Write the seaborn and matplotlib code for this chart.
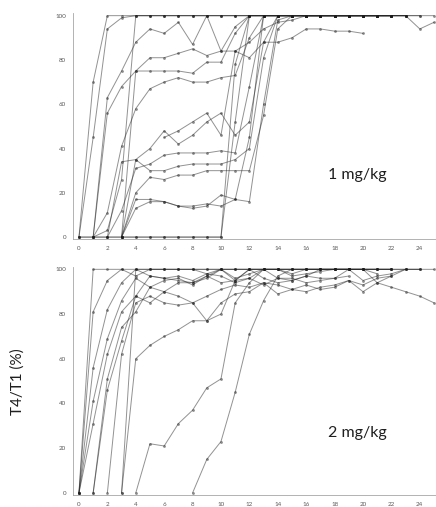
import numpy as np
import pandas as pd
import seaborn as sns
import matplotlib.pyplot as plt

# 1 mg/kg: T4/T1 (%) per subject, start minute + one value per minute
dose1_start = [0, 0, 1, 1, 1, 1, 3, 2, 2, 3, 3, 3, 3, 0, 0, 6]
dose1_vals = [
    [0, 70, 100, 100, 100, 100, 100, 100, 100, 100, 100, 100, 100, 100, 100, 100, 100, 100, 100, 100, 100, 100, 100, 100, 94, 97],
    [0, 45, 94, 99, 100, 100, 100, 100, 100, 100, 100, 100, 100, 100, 100, 100, 100, 100, 100, 100, 100, 100, 100, 100, 100],
    [0, 63, 75, 88, 94, 92, 97, 87, 100, 84, 95, 100, 100, 100, 100, 100, 100, 100, 100, 100, 100, 100, 100, 100, 100],
    [0, 56, 68, 75, 81, 81, 83, 85, 82, 84, 84, 88, 94, 97, 98, 100, 100, 100, 100, 100, 100, 100, 100],
    [0, 11, 41, 58, 67, 70, 72, 70, 70, 72, 73, 90, 100, 100, 100, 100, 100, 100, 100, 100, 100, 100, 100],
    [0, 3, 26, 100, 100, 100, 100, 100, 100, 100, 100, 100, 100, 100, 100, 100, 100, 100, 100, 100, 100, 100],
    [0, 75, 75, 75, 75, 74, 79, 79, 92, 100, 100, 100, 100, 100, 100, 100, 100, 100, 100, 100, 100],
    [0, 34, 35, 40, 48, 42, 46, 52, 56, 46, 52, 88, 100, 100, 100, 100, 100, 100, 100, 100, 100],
    [0, 12, 31, 33, 37, 38, 38, 38, 39, 38, 68, 100, 100, 100, 100, 100, 100, 100, 100, 100, 100],
    [0, 35, 30, 30, 32, 33, 33, 33, 35, 40, 81, 100, 100, 100, 100, 100, 100, 100, 100, 100],
    [0, 20, 27, 26, 28, 28, 30, 30, 30, 30, 55, 94, 100, 100, 100, 100, 100, 100, 100, 100],
    [0, 17, 17, 16, 14, 14, 15, 14, 17, 16, 60, 98, 100, 100, 100, 100, 100, 100, 100],
    [0, 13, 16, 16, 14, 13, 14, 19, 17, 45, 100, 100, 100, 100, 100, 100, 100, 100],
    [0, 0, 0, 0, 0, 0, 0, 0, 0, 0, 0, 52, 100, 100, 100, 100, 100, 100, 100, 100],
    [0, 0, 0, 0, 0, 0, 0, 0, 0, 0, 0, 78, 100, 100, 100, 100, 100, 100, 100, 100, 100, 100],
    [45, 48, 52, 56, 46, 84, 81, 88, 88, 90, 94, 94, 93, 93, 92],
]

# 2 mg/kg
dose2_start = [0, 0, 0, 0, 0, 1, 1, 3, 3, 4, 8, 2]
dose2_vals = [
    [0, 100, 100, 100, 100, 100, 100, 100, 100, 100, 100, 100, 100, 100, 100, 100, 100, 100, 100, 100, 100, 94, 92, 90, 88, 85],
    [0, 81, 95, 100, 97, 100, 100, 100, 100, 98, 100, 100, 100, 100, 100, 98, 100, 100, 100, 100, 100, 100, 100, 100],
    [0, 56, 82, 94, 100, 97, 96, 95, 94, 97, 100, 96, 98, 100, 96, 95, 97, 100, 100, 100, 100, 98],
    [0, 41, 69, 86, 96, 92, 90, 94, 94, 96, 100, 95, 96, 93, 96, 96, 94, 95, 96, 97],
    [0, 31, 62, 81, 88, 85, 90, 88, 85, 88, 91, 93, 92, 94, 89, 91, 93, 91, 92, 95, 93, 96, 97, 100, 100],
    [0, 51, 74, 81, 92, 95, 96, 93, 97, 94, 95, 100, 96, 94, 95, 97, 96, 96, 100, 95, 97, 98, 100, 100, 100],
    [0, 46, 68, 88, 97, 96, 97, 95, 98, 97, 94, 96, 100, 100, 97, 98, 99, 100, 100],
    [0, 100, 100, 100, 100, 100, 100, 100, 100, 100, 100, 100, 100, 100, 100, 100, 100, 100, 100, 100, 100, 100],
    [0, 60, 66, 70, 73, 77, 77, 80, 95, 100, 100, 100, 100, 100, 100, 100, 100, 100, 100, 100],
    [0, 22, 21, 31, 37, 47, 51, 85, 94, 100, 100, 100, 100, 100, 100, 100, 100, 100, 100],
    [0, 15, 23, 45, 71, 86, 97, 100, 100, 100, 100, 100, 100, 100, 100],
    [0, 62, 85, 88, 85, 84, 85, 77, 85, 89, 90, 94, 93, 91, 90, 92, 93, 95, 90, 94, 97],
]


def to_long(starts, vals):
    rows = []
    for i, (s, v) in enumerate(zip(starts, vals)):
        for k, y in enumerate(v):
            rows.append({'subject': i, 'minute': s + k, 'ratio': y})
    return pd.DataFrame(rows)


sns.set_style('white')
plt.rcParams['font.family'] = ['Lato', 'DejaVu Sans']

fig = plt.figure(figsize=(4.36, 5.07), dpi=100)
ax1 = fig.add_axes([0.1674, 0.528, 0.8326, 0.4455])
ax2 = fig.add_axes([0.1674, 0.0233, 0.8326, 0.4499])

for ax, starts, vals, label, ly in [(ax1, dose1_start, dose1_vals, '1 mg/kg', 28),
                                     (ax2, dose2_start, dose2_vals, '2 mg/kg', 27)]:
    df = to_long(starts, vals)
    sns.lineplot(data=df, x='minute', y='ratio', units='subject', estimator=None,
                 color='0.15', alpha=0.5, lw=0.7, marker='o', markersize=2.0,
                 markerfacecolor='0.1', markeredgewidth=0, ax=ax)
    ax.set_xlim(-0.42, 25.14)
    ax.set_ylim(-1, 101)
    ax.set_xticks(range(0, 25, 2))
    ax.set_yticks(range(0, 101, 20))
    ax.tick_params(labelsize=4.5, labelcolor='0.35', length=2, width=0.5, color='0.6', pad=3)
    for side in ['top', 'right']:
        ax.spines[side].set_visible(False)
    for side in ['left', 'bottom']:
        ax.spines[side].set_color('0.65')
        ax.spines[side].set_linewidth(0.6)
    ax.set_xlabel('')
    ax.set_ylabel('')
    ax.text(19.6, ly, label, fontsize=11.5, color='0.12', ha='center', va='center')

ax2.set_ylabel('T4/T1 (%)', fontsize=11, color='0.12')
ax2.yaxis.set_label_coords(-0.132, 0.5)

fig.savefig('out.png', dpi=100)
